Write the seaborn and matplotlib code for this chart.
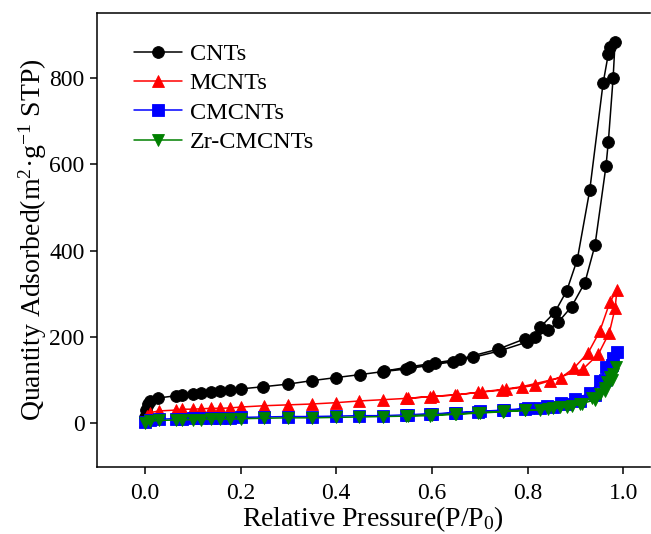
import numpy as np
import pandas as pd
import matplotlib
matplotlib.use("Agg")
import matplotlib.pyplot as plt
import seaborn as sns

# ---------------- data ----------------
samples = ["CNTs", "MCNTs", "CMCNTs", "Zr-CMCNTs"]

cnts_ads_p = [0.001, 0.003, 0.006, 0.01, 0.028, 0.065, 0.078, 0.10, 0.118, 0.139, 0.158, 0.179, 0.201,
              0.248, 0.299, 0.349, 0.399, 0.45, 0.498, 0.547, 0.592, 0.645, 0.687, 0.742, 0.798, 0.843,
              0.864, 0.892, 0.92, 0.941, 0.964, 0.969, 0.979, 0.983]
cnts_ads_v = [15, 32, 45, 52, 59, 64, 66, 68, 70, 73, 75, 77, 80, 85, 91, 99, 106, 113, 120, 126, 134,
              143, 153, 168, 188, 216, 234, 270, 326, 412, 595, 652, 800, 882]
cnts_des_p = [0.972, 0.969, 0.958, 0.930, 0.904, 0.882, 0.857, 0.826, 0.815, 0.795, 0.739, 0.659,
              0.606, 0.554, 0.50]
cnts_des_v = [870, 855, 787, 539, 379, 307, 257, 222, 201, 196, 172, 149, 140, 131, 121]

mcnts_ads_p = [0.001, 0.005, 0.01, 0.03, 0.065, 0.078, 0.10, 0.118, 0.139, 0.158, 0.179, 0.201, 0.249,
               0.299, 0.349, 0.399, 0.448, 0.498, 0.547, 0.596, 0.648, 0.697, 0.746, 0.815, 0.847,
               0.916, 0.948, 0.971, 0.983, 0.987]
mcnts_ads_v = [6, 18, 25, 29, 31, 33, 33, 34, 35, 35, 36, 38, 41, 43, 45, 48, 52, 55, 58, 62, 66, 72,
               77, 88, 99, 126, 160, 210, 266, 309]
mcnts_des_p = [0.972, 0.951, 0.927, 0.897, 0.870, 0.788, 0.756, 0.704, 0.652, 0.603, 0.55]
mcnts_des_v = [280, 213, 164, 128, 106, 85, 80, 73, 66, 63, 58]

cm_ads_p = [0.001, 0.01, 0.03, 0.065, 0.078, 0.10, 0.118, 0.139, 0.158, 0.179, 0.201, 0.249, 0.299,
            0.349, 0.399, 0.448, 0.498, 0.547, 0.596, 0.648, 0.697, 0.749, 0.795, 0.826, 0.854, 0.882,
            0.909, 0.941, 0.962, 0.977, 0.987]
cm_ads_v = [4, 8, 10, 11, 11, 12, 12, 13, 13, 13, 14, 15, 16, 16, 17, 18, 18, 20, 21, 24, 27, 30, 33,
            36, 39, 44, 52, 65, 100, 135, 165]
cm_des_p = [0.979, 0.965, 0.951, 0.93, 0.90, 0.87, 0.84, 0.80, 0.75, 0.70, 0.65, 0.60, 0.55]
cm_des_v = [152, 130, 99, 70, 57, 47, 40, 35, 31, 28, 25, 22, 20]

zr_ads_p = [0.001, 0.01, 0.03, 0.065, 0.078, 0.10, 0.118, 0.139, 0.158, 0.179, 0.201, 0.249, 0.299,
            0.349, 0.399, 0.448, 0.498, 0.547, 0.596, 0.648, 0.697, 0.749, 0.795, 0.826, 0.854, 0.882,
            0.909, 0.941, 0.962, 0.977, 0.986]
zr_ads_v = [2, 5, 7, 8, 8, 9, 9, 10, 10, 10, 11, 12, 13, 13, 14, 15, 16, 17, 18, 21, 24, 27, 30, 31,
            35, 39, 44, 55, 75, 100, 130]
zr_des_p = [0.979, 0.972, 0.967, 0.962, 0.951, 0.934, 0.913, 0.892, 0.868, 0.843, 0.795, 0.75, 0.70,
            0.65, 0.60, 0.55]
zr_des_v = [114, 107, 95, 83, 68, 60, 45, 41, 37, 33, 31, 28, 25, 22, 20, 18]

x_ticks = [0.0, 0.2, 0.4, 0.6, 0.8, 1.0]
y_ticks = [0, 200, 400, 600, 800]

# ---------------- build table ----------------
series = {
    "CNTs": (cnts_ads_p + cnts_des_p, cnts_ads_v + cnts_des_v),
    "MCNTs": (mcnts_ads_p + mcnts_des_p, mcnts_ads_v + mcnts_des_v),
    "CMCNTs": (cm_ads_p + cm_des_p, cm_ads_v + cm_des_v),
    "Zr-CMCNTs": (zr_ads_p + zr_des_p, zr_ads_v + zr_des_v),
}
frames = []
for name in samples:
    p, v = series[name]
    frames.append(pd.DataFrame({"P": p, "V": v, "sample": name}))
df = pd.concat(frames, ignore_index=True)

# ---------------- style ----------------
sns.set_style("ticks")
plt.rcParams["font.family"] = ["Liberation Serif", "DejaVu Serif"]
plt.rcParams["mathtext.fontset"] = "custom"
plt.rcParams["mathtext.rm"] = "Liberation Serif"
plt.rcParams["mathtext.it"] = "Liberation Serif:italic"
plt.rcParams["mathtext.bf"] = "Liberation Serif:bold"
for key in ["text.color", "axes.labelcolor", "xtick.color", "ytick.color", "axes.edgecolor"]:
    plt.rcParams[key] = "black"

palette = {"CNTs": "#000000", "MCNTs": "#FF0000", "CMCNTs": "#0000FF", "Zr-CMCNTs": "#008000"}
markers = {"CNTs": "o", "MCNTs": "^", "CMCNTs": "s", "Zr-CMCNTs": "v"}

fig = plt.figure(figsize=(6.51, 5.34), dpi=100)
ax = fig.add_axes([97 / 651, 67.3 / 534, (649.5 - 97) / 651, (466.7 - 12.7) / 534])

sns.lineplot(data=df, x="P", y="V", hue="sample", style="sample", hue_order=samples,
             style_order=samples, palette=palette, markers=markers, dashes=False,
             sort=False, estimator=None, markersize=8.5, markeredgewidth=0.6,
             linewidth=1.1, ax=ax)
for ln in ax.lines:
    ln.set_markeredgecolor(ln.get_color())

ax.set_xlim(-0.1, 1.055)
ax.set_ylim(-100, 950)
ax.set_xticks(x_ticks)
ax.set_yticks(y_ticks)
ax.set_xticklabels([f"{t:.1f}" for t in x_ticks])
ax.set_yticklabels([str(t) for t in y_ticks])
ax.tick_params(direction="out", length=5, width=1.1, labelsize=17, top=False, right=False)
ax.tick_params(axis="x", pad=7)
ax.tick_params(axis="y", pad=4)
ax.spines["right"].set_visible(False)
for s in ["left", "bottom", "top"]:
    ax.spines[s].set_linewidth(1.1)

ax.set_xlabel("Relative Pressure(P/P$_0$)", fontsize=20, labelpad=0)
ax.set_ylabel("Quantity Adsorbed(m$^2$·g$^{-1}$ STP)", fontsize=20, labelpad=0)

leg = ax.legend(loc="upper left", bbox_to_anchor=(0.04, 0.965), frameon=False, fontsize=17.5,
                handlelength=2.0, labelspacing=0.3, handletextpad=0.3, borderaxespad=0.2)
for h in leg.legend_handles:
    h.set_markersize(8.5)
    h.set_markeredgecolor(h.get_color())

fig.savefig("out.png", dpi=100)
